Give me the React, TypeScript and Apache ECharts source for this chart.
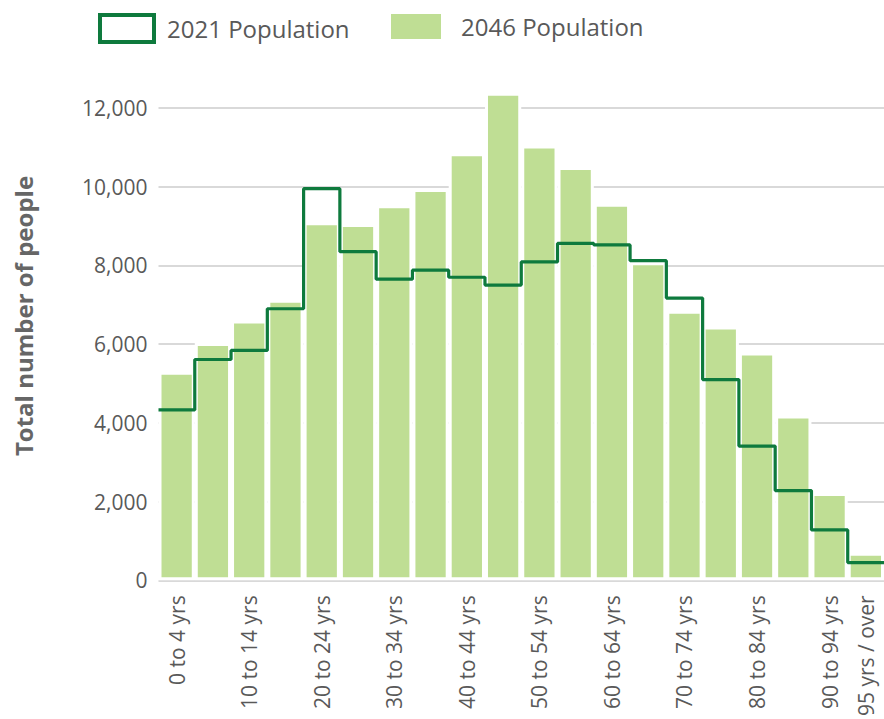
import React, { useEffect, useRef } from 'react';
import * as echarts from 'echarts';

const categories = [
  '0 to 4 yrs', '5 to 9 yrs', '10 to 14 yrs', '15 to 19 yrs', '20 to 24 yrs',
  '25 to 29 yrs', '30 to 34 yrs', '35 to 39 yrs', '40 to 44 yrs', '45 to 49 yrs',
  '50 to 54 yrs', '55 to 59 yrs', '60 to 64 yrs', '65 to 69 yrs', '70 to 74 yrs',
  '75 to 79 yrs', '80 to 84 yrs', '85 to 89 yrs', '90 to 94 yrs', '95 yrs / over',
];
const pop2046 = [5300, 6030, 6600, 7130, 9100, 9050, 9530, 9940, 10850, 12390, 11050, 10500, 9570, 8080, 6850, 6450, 5790, 4190, 2220, 700];
const pop2021 = [4330, 5610, 5840, 6900, 9950, 8350, 7650, 7880, 7700, 7500, 8090, 8560, 8520, 8120, 7170, 5100, 3410, 2280, 1280, 450];
const yTicks = { min: 0, max: 12000, interval: 2000 };

const DARK = '#0e7a3d';
const LIGHT = '#bfde94';
const TEXT = '#595959';
const FONT = "'Open Sans', 'Noto Sans', sans-serif";

export default function App() {
  const ref = useRef<HTMLDivElement>(null);
  useEffect(() => {
    const chart = echarts.init(ref.current!, null, { renderer: 'svg' });
    const stepData: [number, number][] = pop2021.map((v, i) => [i, v] as [number, number]);
    stepData.push([pop2021.length, pop2021[pop2021.length - 1]]);
    chart.setOption({
      animation: false,
      textStyle: { fontFamily: FONT },
      legend: [
        {
          data: [{ name: '2021 Population', icon: 'rect', itemStyle: { color: '#fff', borderColor: DARK, borderWidth: 4 } }],
          left: 98, top: 13, padding: 0, itemWidth: 54, itemHeight: 27,
          textStyle: { color: TEXT, fontSize: 24, fontFamily: FONT, padding: [0, 0, 0, 8] },
          selectedMode: false,
        },
        {
          data: [{ name: '2046 Population', icon: 'rect' }],
          left: 389, top: 12, padding: 0, itemWidth: 52, itemHeight: 27,
          textStyle: { color: TEXT, fontSize: 24, fontFamily: FONT, padding: [0, 0, 0, 14] },
          selectedMode: false,
        },
      ],
      grid: { left: 158.5, top: 108, width: 731, height: 480, containLabel: false },
      xAxis: [
        {
          type: 'category',
          data: categories,
          axisLine: { show: false },
          axisTick: { show: false },
          axisLabel: {
            rotate: 90,
            margin: 15,
            color: TEXT,
            fontSize: 21,
            fontFamily: FONT,
            interval: (index: number) => index % 2 === 0 || index === categories.length - 1,
          },
        },
        { type: 'value', min: 0, max: categories.length, show: false },
      ],
      yAxis: {
        type: 'value',
        min: yTicks.min,
        max: yTicks.max,
        interval: yTicks.interval,
        axisLine: { show: false },
        axisTick: { show: false },
        axisLabel: {
          margin: 11,
          color: TEXT,
          fontSize: 21,
          fontFamily: FONT,
          formatter: (v: number) => v.toLocaleString('en-US'),
        },
        splitLine: { lineStyle: { color: '#d9d9d9', width: 2 } },
      },
      graphic: [
        {
          type: 'text',
          x: 23,
          y: 316,
          rotation: Math.PI / 2,
          style: {
            text: 'Total number of people',
            fill: '#666666',
            font: `bold 24px ${FONT}`,
            align: 'center',
            verticalAlign: 'middle',
          },
        },
      ],
      series: [
        {
          name: '2046 Population',
          type: 'bar',
          data: pop2046,
          barCategoryGap: '0%',
          clip: false,
          itemStyle: { color: LIGHT, borderColor: '#ffffff', borderWidth: 3 },
          z: 2,
        },
        {
          name: '2021 Population',
          type: 'line',
          xAxisIndex: 1,
          data: stepData,
          step: 'end',
          symbol: 'none',
          clip: false,
          lineStyle: { color: DARK, width: 3.2 },
          itemStyle: { color: DARK },
          z: 5,
        },
      ],
    });
    return () => chart.dispose();
  }, []);
  return (
    <div
      ref={ref}
      style={{ position: 'fixed', left: 0, top: 0, width: 884, height: 719, background: '#ffffff' }}
    />
  );
}
